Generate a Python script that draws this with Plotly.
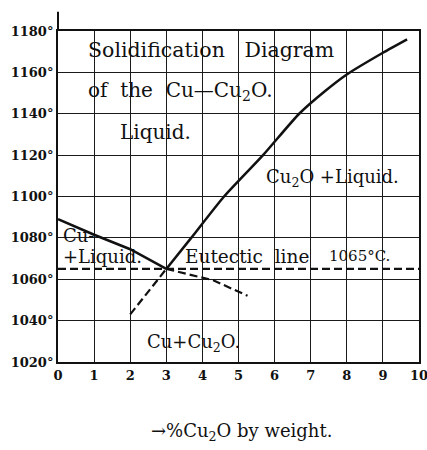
import plotly.graph_objects as go

# Axis ticks
x_ticks = list(range(0, 11))
y_ticks = [1020, 1040, 1060, 1080, 1100, 1120, 1140, 1160, 1180]
y_tick_labels = [f"{t}°" for t in y_ticks]

# Liquidus on the copper side (falls to the eutectic)
cu_liq_x = [0, 1, 2, 3]
cu_liq_t = [1089, 1081.5, 1074.5, 1065]

# Its supercooled continuation beyond the eutectic
cu_meta_x = [3, 4.3, 5.25]
cu_meta_t = [1065, 1059.5, 1052]

# Liquidus on the Cu2O side (rises from the eutectic)
cu2o_liq_x = [3, 3.69, 4.6, 5.68, 6.68, 7.4, 8, 9, 9.67]
cu2o_liq_t = [1065, 1080, 1100, 1120, 1140, 1151, 1159, 1169.5, 1176]

# Its supercooled continuation below the eutectic
cu2o_meta_x = [2, 3]
cu2o_meta_t = [1043, 1065]

# Eutectic horizontal
eutectic_t = 1065
eut_x = [0, 10]
eut_t = [eutectic_t, eutectic_t]

FONT = "DejaVu Serif"
INK = "#111111"

fig = go.Figure()

solid = dict(color=INK, width=2.5)
dashed = dict(color=INK, width=2.2, dash="8px,4px")

fig.add_trace(go.Scatter(x=eut_x, y=eut_t, mode="lines", line=dashed, hoverinfo="skip"))
fig.add_trace(go.Scatter(x=cu_liq_x, y=cu_liq_t, mode="lines", line=solid, hoverinfo="skip"))
fig.add_trace(go.Scatter(x=cu_meta_x, y=cu_meta_t, mode="lines", line=dashed, hoverinfo="skip"))
fig.add_trace(go.Scatter(x=cu2o_liq_x, y=cu2o_liq_t, mode="lines",
                         line=dict(color=INK, width=2.5, shape="spline", smoothing=0.6),
                         hoverinfo="skip"))
fig.add_trace(go.Scatter(x=cu2o_meta_x, y=cu2o_meta_t, mode="lines", line=dashed, hoverinfo="skip"))

def label(text, x, y, size=20, xanchor="left"):
    fig.add_annotation(text=text, x=x, y=y, xref="x", yref="y", showarrow=False,
                       xanchor=xanchor, yanchor="middle",
                       font=dict(family=FONT, size=size, color=INK))

label("Solidification   Diagram", 0.78, 1171, size=20.5)
label("of  the  Cu—Cu<sub>2</sub>O.", 0.78, 1151)
label("Liquid.", 1.65, 1131)
label("Cu<sub>2</sub>O +Liquid.", 5.7, 1109, size=18)
label("Cu-", 0.07, 1081, size=18)
label("+Liquid.", 0.07, 1071, size=18)
label("Eutectic  line", 3.45, 1071, size=18.5)
label("1065°C.", 7.45, 1071, size=15)
label("Cu+Cu<sub>2</sub>O.", 2.42, 1029, size=18)

fig.add_annotation(text="→%Cu<sub>2</sub>O by weight.", x=0.507, y=-0.21,
                   xref="paper", yref="paper", showarrow=False,
                   xanchor="center", yanchor="middle",
                   font=dict(family=FONT, size=18, color=INK))

# Left axis rises a little above the top frame line
fig.add_shape(type="line", xref="paper", yref="paper", x0=0, x1=0, y0=1, y1=1.058,
              line=dict(color=INK, width=2))

fig.update_layout(
    width=427, height=450,
    margin=dict(l=58, r=8, t=31, b=88, autoexpand=False),
    paper_bgcolor="white", plot_bgcolor="white",
    showlegend=False,
)
fig.update_xaxes(range=[0, 10], tickvals=x_ticks, ticktext=[str(v) for v in x_ticks],
                 showgrid=True, gridcolor="#1a1a1a", gridwidth=1.2,
                 showline=True, linecolor=INK, linewidth=2, mirror=True,
                 zeroline=False, ticks="", ticklabelstandoff=0, automargin=False,
                 ticklabeloverflow="allow",
                 tickfont=dict(family=FONT, size=13, color=INK, weight="bold"))
fig.update_yaxes(range=[1020, 1180], tickvals=y_ticks, ticktext=y_tick_labels,
                 showgrid=True, gridcolor="#1a1a1a", gridwidth=1.2,
                 showline=True, linecolor=INK, linewidth=2, mirror=True,
                 zeroline=False, ticks="", ticklabelstandoff=0, automargin=False,
                 ticklabeloverflow="allow",
                 tickfont=dict(family=FONT, size=13, color=INK, weight="bold"))

fig.write_html("out.html")
